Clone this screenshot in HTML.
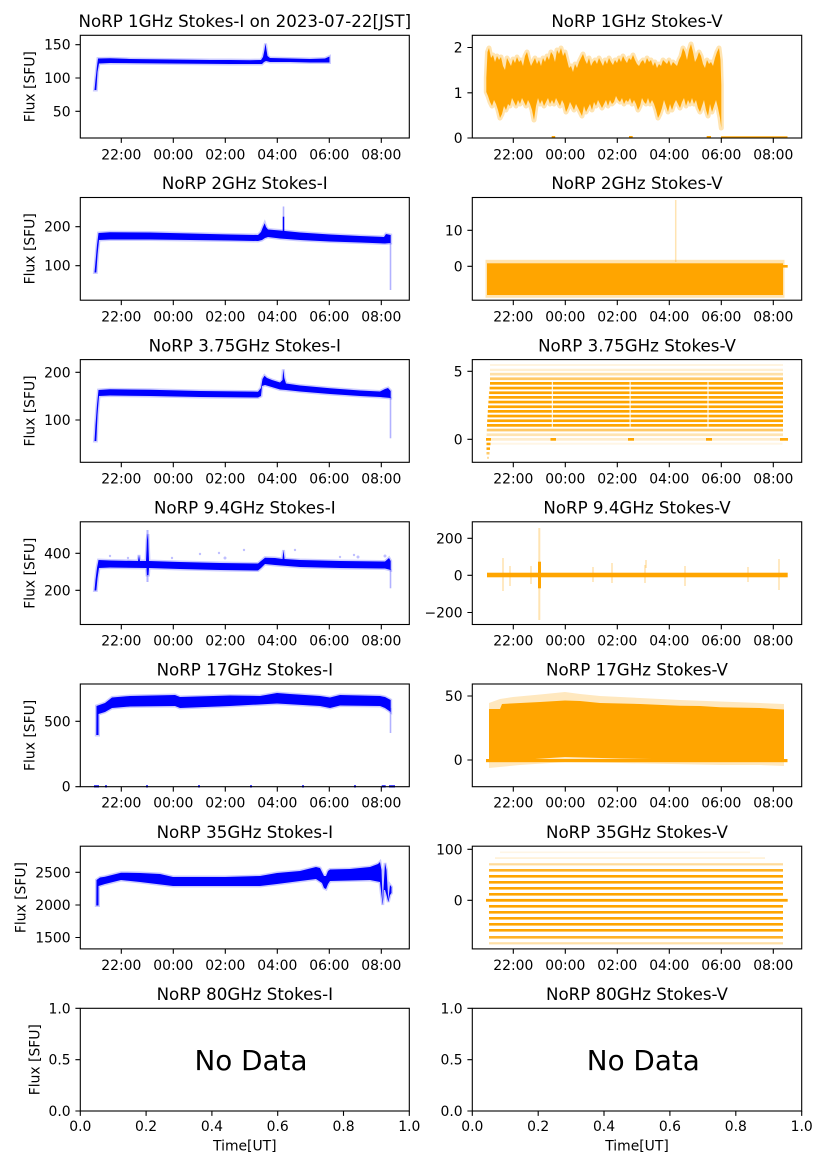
<!DOCTYPE html>
<html><head><meta charset="utf-8"><style>
html,body{margin:0;padding:0;background:#fff;}
svg{display:block;}
text{font-family:"DejaVu Sans","Liberation Sans",sans-serif;fill:#000;}
.tk{font-size:13.9px;}
.tt{font-size:16.67px;text-anchor:middle;}
.yl{font-size:13.9px;text-anchor:end;}
.xl{font-size:13.9px;text-anchor:middle;}
.sp{fill:none;stroke:#000;stroke-width:1.1;}
.tm{stroke:#000;stroke-width:1.1;}
.b{fill:#0000ff;}
.bh{fill:none;stroke:#0000ff;stroke-opacity:.2;stroke-width:3;}
.o{fill:#ffa500;}
.oh{fill:none;stroke:#ffa500;stroke-opacity:.3;stroke-width:5;stroke-linejoin:round;}
</style></head><body>
<svg width="827" height="1169" viewBox="0 0 827 1169" xmlns="http://www.w3.org/2000/svg">
<rect x="0" y="0" width="827" height="1169" fill="#fff"/>

<!-- ================= ROW 1 ================= -->
<text class="tt" x="244.8" y="27">NoRP 1GHz Stokes-I on 2023-07-22[JST]</text>
<text class="tt" x="637" y="27">NoRP 1GHz Stokes-V</text>
<polygon class="bh" points="94.5,90 95.5,80 97,66 98,58.5 110,58.2 130,59 150,59.2 170,59.5 190,59.8 210,60 230,60 250,60.2 261,60 263,57 264.5,50 265.5,43.5 266.5,50 267.5,56 270,58 290,58.5 310,59 325,58.5 329.5,56.5 329.5,62.5 310,62.5 290,62 270,62 266,61 264,62 262,64 250,64 230,64 200,63.8 170,63.5 140,63.3 110,63 99,63.5 97.5,72 96.3,90"/>
<polygon class="b" points="94.5,90 95.5,80 97,66 98,58.5 110,58.2 130,59 150,59.2 170,59.5 190,59.8 210,60 230,60 250,60.2 261,60 263,57 264.5,50 265.5,43.5 266.5,50 267.5,56 270,58 290,58.5 310,59 325,58.5 329.5,56.5 329.5,62.5 310,62.5 290,62 270,62 266,61 264,62 262,64 250,64 230,64 200,63.8 170,63.5 140,63.3 110,63 99,63.5 97.5,72 96.3,90"/>
<!-- right data -->
<g id="v1">
<polygon class="oh" points="486.3,78 487.5,52 489,48 491,58 493,55 495,62 497,56 499,60 501,57 503,66 505,70 507,58 509,62 511,66 513,59 515,63 517,57 519,62 521,60 523,66 525,56 527,52 529,60 531,66 533,62 535,58 537,64 539,60 541,66 543,58 545,62 547,56 549,60 551,52 553,55 555,62 557,50 559,54 561,48 563,56 565,52 567,60 569,68 571,66 573,72 575,64 577,68 579,62 581,58 583,54 585,60 587,64 589,58 591,66 593,62 595,60 597,64 599,58 601,62 603,66 605,60 607,64 609,58 611,62 613,65 615,60 617,63 619,58 621,62 623,56 625,60 627,63 629,58 631,60 633,55 635,60 637,64 639,66 641,62 643,60 645,64 647,58 649,62 651,60 653,66 655,62 657,68 659,64 661,66 663,60 665,62 667,64 669,60 671,66 673,62 675,64 677,66 679,60 681,56 683,48 685,52 687,60 689,50 691,44 693,52 695,62 697,58 699,52 701,56 703,64 705,68 707,60 709,64 711,62 713,66 715,58 717,52 719,48 720.5,60 721.3,85 721.3,128 720,118 718,108 716,100 714,106 712,112 710,104 708,116 706,110 704,100 702,106 700,112 698,108 696,100 694,104 692,98 690,104 688,100 686,106 684,98 682,102 680,108 678,104 676,100 674,104 672,110 670,104 668,112 666,106 664,100 662,108 660,114 658,118 656,110 654,104 652,100 650,104 648,98 646,104 644,102 642,98 640,106 638,110 636,104 634,100 632,104 630,98 628,102 626,100 624,104 622,98 620,102 618,100 616,96 614,102 612,104 610,100 608,106 606,100 604,104 602,108 600,104 598,100 596,106 594,102 592,110 590,104 588,108 586,112 584,106 582,116 580,112 578,108 576,104 574,110 572,106 570,102 568,108 566,112 564,104 562,100 560,106 558,102 556,98 554,104 552,100 550,104 548,98 546,102 544,106 542,100 540,104 538,98 536,106 534,120 532,110 530,104 528,100 526,106 524,102 522,98 520,104 518,100 516,106 514,102 512,98 510,106 508,104 506,110 504,106 502,114 500,118 498,110 496,104 494,100 492,106 490,102 488,96 486.3,92"/>
<polygon class="o" points="486.3,78 487.5,52 489,48 491,58 493,55 495,62 497,56 499,60 501,57 503,66 505,70 507,58 509,62 511,66 513,59 515,63 517,57 519,62 521,60 523,66 525,56 527,52 529,60 531,66 533,62 535,58 537,64 539,60 541,66 543,58 545,62 547,56 549,60 551,52 553,55 555,62 557,50 559,54 561,48 563,56 565,52 567,60 569,68 571,66 573,72 575,64 577,68 579,62 581,58 583,54 585,60 587,64 589,58 591,66 593,62 595,60 597,64 599,58 601,62 603,66 605,60 607,64 609,58 611,62 613,65 615,60 617,63 619,58 621,62 623,56 625,60 627,63 629,58 631,60 633,55 635,60 637,64 639,66 641,62 643,60 645,64 647,58 649,62 651,60 653,66 655,62 657,68 659,64 661,66 663,60 665,62 667,64 669,60 671,66 673,62 675,64 677,66 679,60 681,56 683,48 685,52 687,60 689,50 691,44 693,52 695,62 697,58 699,52 701,56 703,64 705,68 707,60 709,64 711,62 713,66 715,58 717,52 719,48 720.5,60 721.3,85 721.3,128 720,118 718,108 716,100 714,106 712,112 710,104 708,116 706,110 704,100 702,106 700,112 698,108 696,100 694,104 692,98 690,104 688,100 686,106 684,98 682,102 680,108 678,104 676,100 674,104 672,110 670,104 668,112 666,106 664,100 662,108 660,114 658,118 656,110 654,104 652,100 650,104 648,98 646,104 644,102 642,98 640,106 638,110 636,104 634,100 632,104 630,98 628,102 626,100 624,104 622,98 620,102 618,100 616,96 614,102 612,104 610,100 608,106 606,100 604,104 602,108 600,104 598,100 596,106 594,102 592,110 590,104 588,108 586,112 584,106 582,116 580,112 578,108 576,104 574,110 572,106 570,102 568,108 566,112 564,104 562,100 560,106 558,102 556,98 554,104 552,100 550,104 548,98 546,102 544,106 542,100 540,104 538,98 536,106 534,120 532,110 530,104 528,100 526,106 524,102 522,98 520,104 518,100 516,106 514,102 512,98 510,106 508,104 506,110 504,106 502,114 500,118 498,110 496,104 494,100 492,106 490,102 488,96 486.3,92"/>
</g>
<g class="o">
<rect x="551.7" y="136" width="3.5" height="2.2"/><rect x="629" y="136" width="3.7" height="2.2"/><rect x="706.7" y="136" width="4.3" height="2.2"/><rect x="721" y="136.3" width="66.5" height="1.9"/>
</g>
<rect class="sp" x="80.3" y="35.3" width="329" height="102.7"/>
<rect class="sp" x="472.3" y="35.3" width="329.4" height="102.7"/>

<!-- ================= ROW 2 ================= -->
<text class="tt" x="244.8" y="189.2">NoRP 2GHz Stokes-I</text>
<text class="tt" x="637" y="189.2">NoRP 2GHz Stokes-V</text>
<line x1="283.5" y1="231" x2="283.5" y2="216.7" stroke="#0000ff" stroke-width="1.6"/>
<line x1="283.5" y1="217" x2="283.5" y2="206.5" stroke="#0000ff" stroke-opacity=".3" stroke-width="1.6"/>
<line x1="390.5" y1="243" x2="390.5" y2="290" stroke="#0000ff" stroke-opacity=".3" stroke-width="1.6"/>
<polygon class="bh" points="94.5,272.5 95.5,262 97,245 98.5,233 110,232.3 150,232.5 190,233.5 230,234.5 258,235 261,232 263,227 264.7,223.3 266,227 268,229.5 280,230.5 300,232.5 330,234.5 360,236 384,237 386,234 390.7,235 390.7,243 385,243.5 360,242.5 330,241.5 300,240 280,238.5 268,237 265,238 262,240 258,241 230,240.5 190,240 150,239.5 110,239.5 99,240 97.5,255 96.3,272.5"/>
<polygon class="b" points="94.5,272.5 95.5,262 97,245 98.5,233 110,232.3 150,232.5 190,233.5 230,234.5 258,235 261,232 263,227 264.7,223.3 266,227 268,229.5 280,230.5 300,232.5 330,234.5 360,236 384,237 386,234 390.7,235 390.7,243 385,243.5 360,242.5 330,241.5 300,240 280,238.5 268,237 265,238 262,240 258,241 230,240.5 190,240 150,239.5 110,239.5 99,240 97.5,255 96.3,272.5"/>
<rect x="485.5" y="259.8" width="299" height="38" fill="#ffa500" fill-opacity=".3"/>
<rect x="487" y="263.3" width="296" height="31.7" class="o"/>
<rect x="783" y="265" width="4.7" height="2.6" class="o"/>
<line x1="675.7" y1="200" x2="675.7" y2="262" stroke="#ffa500" stroke-opacity=".3" stroke-width="1.5"/>
<rect class="sp" x="80.3" y="197.5" width="329" height="102.7"/>
<rect class="sp" x="472.3" y="197.5" width="329.4" height="102.7"/>

<!-- ================= ROW 3 ================= -->
<text class="tt" x="244.8" y="351.3">NoRP 3.75GHz Stokes-I</text>
<text class="tt" x="637" y="351.3">NoRP 3.75GHz Stokes-V</text>
<line x1="390.5" y1="397" x2="390.5" y2="438.3" stroke="#0000ff" stroke-opacity=".3" stroke-width="1.6"/>
<polygon class="bh" points="94.5,441 95.5,425 97,405 98.5,390 110,389.3 150,389.8 200,391 258,391.7 261,388 262.5,379 264.5,375.7 267,378 272,380 280,382.5 282.5,380 283.3,369.3 284.3,378 286,383.5 300,385.5 330,388.3 360,390.5 380,391.5 385,389 388,388 390.7,391 390.7,398 380,397 360,396 330,394 300,391.5 286,390 280,389.5 270,386.5 265,385 262,386 261,396 258,397.5 200,397 150,396 110,395.5 99,396 97.5,415 96.3,441"/>
<polygon class="b" points="94.5,441 95.5,425 97,405 98.5,390 110,389.3 150,389.8 200,391 258,391.7 261,388 262.5,379 264.5,375.7 267,378 272,380 280,382.5 282.5,380 283.3,369.3 284.3,378 286,383.5 300,385.5 330,388.3 360,390.5 380,391.5 385,389 388,388 390.7,391 390.7,398 380,397 360,396 330,394 300,391.5 286,390 280,389.5 270,386.5 265,385 262,386 261,396 258,397.5 200,397 150,396 110,395.5 99,396 97.5,415 96.3,441"/>
<g class="o">
<rect x="490" y="364" width="293" height="2" fill-opacity=".12"/>
<rect x="490" y="368.7" width="293" height="2.4" fill-opacity=".18"/>
<rect x="490" y="372.8" width="293" height="2.7" fill-opacity=".35"/>
<rect x="490" y="377.4" width="293" height="2.7" fill-opacity=".6"/>
<rect x="490" y="382" width="293" height="2.7"/>
<rect x="489.6" y="386.7" width="293.4" height="2.7"/>
<rect x="489.2" y="391.4" width="293.8" height="2.7"/>
<rect x="488.8" y="396" width="294.2" height="2.7"/>
<rect x="488.4" y="400.7" width="294.6" height="2.7"/>
<rect x="488" y="405.4" width="295" height="2.7"/>
<rect x="487.8" y="410" width="295.2" height="2.7"/>
<rect x="487.5" y="414.7" width="295.5" height="2.7"/>
<rect x="487.2" y="419.4" width="295.8" height="2.7"/>
<rect x="487" y="424" width="296" height="2.7"/>
<rect x="486.8" y="428.7" width="296.2" height="2.7" fill-opacity=".6"/>
<rect x="486.6" y="433.4" width="296.4" height="2.7" fill-opacity=".3"/>
<rect x="486.5" y="438" width="296.5" height="2.7" fill-opacity=".2"/>
<rect x="486" y="438" width="5" height="2.7"/>
<rect x="550.5" y="438" width="5.5" height="2.7"/>
<rect x="628" y="438" width="6" height="2.7"/>
<rect x="706" y="438" width="6" height="2.7"/>
<rect x="780" y="438" width="8" height="2.7"/>
<rect x="486.5" y="442.7" width="4" height="2.5"/>
<rect x="486.5" y="447.4" width="3.5" height="2.5"/>
<rect x="486.5" y="452" width="3" height="2.5" fill-opacity=".6"/>
<rect x="487" y="456.8" width="2" height="2" fill-opacity=".4"/>
<rect x="486.5" y="442.7" width="296" height="2" fill-opacity=".1"/>
</g>
<g fill="#fff">
<rect x="551.8" y="380" width="1" height="48"/>
<rect x="629.6" y="380" width="1" height="48"/>
<rect x="707.5" y="380" width="1" height="48"/>
</g>
<rect class="sp" x="80.3" y="359.6" width="329" height="102.7"/>
<rect class="sp" x="472.3" y="359.6" width="329.4" height="102.7"/>

<!-- ================= ROW 4 ================= -->
<text class="tt" x="244.8" y="513.5">NoRP 9.4GHz Stokes-I</text>
<text class="tt" x="637" y="513.5">NoRP 9.4GHz Stokes-V</text>
<line x1="147.5" y1="530" x2="147.5" y2="582" stroke="#0000ff" stroke-opacity=".3" stroke-width="2"/>
<line x1="390.5" y1="569" x2="390.5" y2="588.3" stroke="#0000ff" stroke-opacity=".3" stroke-width="1.6"/>
<g fill="#0000ff" fill-opacity=".25">
<circle cx="110" cy="556" r="1.2"/><circle cx="128" cy="558" r="1.2"/><circle cx="200" cy="554" r="1.2"/><circle cx="219" cy="553" r="1.2"/><circle cx="244" cy="550" r="1.2"/><circle cx="225" cy="558" r="1.5"/><circle cx="295" cy="550" r="1.2"/><circle cx="354" cy="555" r="1.2"/><circle cx="358" cy="557" r="1.5"/><circle cx="385" cy="556" r="1.5"/><circle cx="172" cy="558" r="1.2"/><circle cx="340" cy="557" r="1.2"/>
</g>
<polygon class="bh" points="94.5,590.5 95.5,580 97,568 98.5,560 110,560.5 138,561 139,555 140,561 146,561 147,540 148,534 149,561 180,562 220,563 258,563.5 261,561 265,557.7 275,558 282.5,559 283.5,550 284.5,559 300,560 340,561 385,561.5 389,558 390.7,561 390.7,570 385,568.5 340,568 300,567 275,565 265,564 261,568 258,570.5 220,570 180,569 149,568 148.5,575 147,575 146.5,568 110,567.5 99,568 97.5,578 96.3,590.5"/>
<polygon class="b" points="94.5,590.5 95.5,580 97,568 98.5,560 110,560.5 138,561 139,555 140,561 146,561 147,540 148,534 149,561 180,562 220,563 258,563.5 261,561 265,557.7 275,558 282.5,559 283.5,550 284.5,559 300,560 340,561 385,561.5 389,558 390.7,561 390.7,570 385,568.5 340,568 300,567 275,565 265,564 261,568 258,570.5 220,570 180,569 149,568 148.5,575 147,575 146.5,568 110,567.5 99,568 97.5,578 96.3,590.5"/>
<line x1="539.3" y1="528" x2="539.3" y2="620" stroke="#ffa500" stroke-opacity=".3" stroke-width="2"/>
<g stroke="#ffa500" stroke-opacity=".3" stroke-width="1.6">
<line x1="503" y1="558" x2="503" y2="591"/><line x1="510" y1="566" x2="510" y2="586"/><line x1="531" y1="566" x2="531" y2="584"/><line x1="612" y1="563" x2="612" y2="583"/><line x1="593" y1="567" x2="593" y2="582"/><line x1="645" y1="565" x2="645" y2="583"/><line x1="646" y1="560" x2="646" y2="568"/><line x1="685" y1="566" x2="685" y2="586"/><line x1="748" y1="567" x2="748" y2="582"/><line x1="779" y1="559" x2="779" y2="590"/>
</g>
<rect x="487" y="572.7" width="300.7" height="4.6" class="o"/>
<rect x="538" y="561.7" width="3" height="26.6" class="o"/>
<rect class="sp" x="80.3" y="521.8" width="329" height="102.7"/>
<rect class="sp" x="472.3" y="521.8" width="329.4" height="102.7"/>

<!-- ================= ROW 5 ================= -->
<text class="tt" x="244.8" y="675.7">NoRP 17GHz Stokes-I</text>
<text class="tt" x="637" y="675.7">NoRP 17GHz Stokes-V</text>
<line x1="390.5" y1="708" x2="390.5" y2="733" stroke="#0000ff" stroke-opacity=".3" stroke-width="1.6"/>
<polygon class="bh" points="96.3,735 96.5,706 105,703 112,697.5 130,696 175,695 180,697 230,695.5 260,696 277,693 290,694 320,696 330,697.5 340,695 380,696 385,697 390.7,700 390.7,712 385,708 380,706 340,705.5 330,708 320,706 277,703.5 230,706 180,708 175,706 130,706.5 112,708 105,712 98.5,714 98.5,735"/>
<polygon class="b" points="96.3,735 96.5,706 105,703 112,697.5 130,696 175,695 180,697 230,695.5 260,696 277,693 290,694 320,696 330,697.5 340,695 380,696 385,697 390.7,700 390.7,712 385,708 380,706 340,705.5 330,708 320,706 277,703.5 230,706 180,708 175,706 130,706.5 112,708 105,712 98.5,714 98.5,735"/>
<g class="b">
<rect x="94" y="785.3" width="5" height="2.2"/><rect x="105" y="785.3" width="2" height="2.2"/><rect x="146" y="785.3" width="2" height="2.2"/><rect x="198" y="785.3" width="2" height="2.2"/><rect x="250" y="785.3" width="2" height="2.2"/><rect x="302" y="785.3" width="2" height="2.2"/><rect x="354" y="785.3" width="2" height="2.2"/><rect x="381.7" y="785.3" width="4" height="2.2"/><rect x="389" y="785.3" width="6" height="2.2"/>
</g>
<polygon points="489,703 500,699 513,697 540,694.5 565,692 580,694 600,696 640,698 680,700 720,701.5 760,703 784,704 784,766 760,765 720,765 620,763 565,762 520,765 489,768" fill="#ffa500" fill-opacity=".25"/>
<polygon class="o" points="489,709 500,709 502,704 540,702 565,700.5 580,701 600,703 640,704 680,705.7 700,706 720,707.3 760,708 775,709 784,709.5 784,760.7 720,760 620,758.5 565,757 520,760 500,761 489,762"/>
<rect x="486" y="759" width="301.5" height="3.2" class="o"/>
<rect class="sp" x="80.3" y="684" width="329" height="102.7"/>
<rect class="sp" x="472.3" y="684" width="329.4" height="102.7"/>

<!-- ================= ROW 6 ================= -->
<text class="tt" x="244.8" y="837.9">NoRP 35GHz Stokes-I</text>
<text class="tt" x="637" y="837.9">NoRP 35GHz Stokes-V</text>
<polygon class="bh" points="96.3,905.5 96.5,880 100,877.5 105,876.7 121,872.7 140,873 160,874 173,877 225,877 260,876 277,873 300,871 316,867 320,868 322,872 324,876 326,876 328,871 330,869.5 350,869 370,867 378,864 380,862 381.5,870 382.7,903 384,880 385,863 386.5,870 388.3,900 390,885 391.5,887 391.5,893 390,895 388.3,902 386.5,895 385,890 384,890 382.7,905 381.5,895 380,882 370,880 350,880.5 330,881 328,884 326,889 324,888 322,883 316,879 300,881 277,884 260,886 225,886 173,886 140,882 121,880 105,884 98.5,886 98.5,905.5"/>
<polygon class="b" points="96.3,905.5 96.5,880 100,877.5 105,876.7 121,872.7 140,873 160,874 173,877 225,877 260,876 277,873 300,871 316,867 320,868 322,872 324,876 326,876 328,871 330,869.5 350,869 370,867 378,864 380,862 381.5,870 382.7,903 384,880 385,863 386.5,870 388.3,900 390,885 391.5,887 391.5,893 390,895 388.3,902 386.5,895 385,890 384,890 382.7,905 381.5,895 380,882 370,880 350,880.5 330,881 328,884 326,889 324,888 322,883 316,879 300,881 277,884 260,886 225,886 173,886 140,882 121,880 105,884 98.5,886 98.5,905.5"/>
<g class="o">
<rect x="500" y="851.5" width="250" height="1.6" fill-opacity=".1"/>
<rect x="495" y="857.2" width="270" height="1.8" fill-opacity=".15"/>
<rect x="489" y="863.2" width="294" height="2.2" fill-opacity=".4"/>
<rect x="489" y="869" width="294" height="2.6" fill-opacity=".85"/>
<rect x="489" y="875" width="294" height="2.6"/>
<rect x="489" y="881" width="294" height="2.6"/>
<rect x="489" y="887" width="294" height="2.6"/>
<rect x="489" y="893" width="294" height="2.6"/>
<rect x="486" y="898.9" width="301.7" height="2.8"/>
<rect x="489" y="905" width="294" height="2.6"/>
<rect x="489" y="911" width="294" height="2.6"/>
<rect x="489" y="917" width="294" height="2.6"/>
<rect x="489" y="923" width="294" height="2.6"/>
<rect x="489" y="929" width="294" height="2.6"/>
<rect x="489" y="936" width="294" height="2.6" fill-opacity=".85"/>
<rect x="489" y="942.2" width="294" height="2.2" fill-opacity=".35"/>
</g>
<rect class="sp" x="80.3" y="846.2" width="329" height="102.7"/>
<rect class="sp" x="472.3" y="846.2" width="329.4" height="102.7"/>

<!-- ================= ROW 7 ================= -->
<text class="tt" x="244.8" y="1000">NoRP 80GHz Stokes-I</text>
<text class="tt" x="637" y="1000">NoRP 80GHz Stokes-V</text>
<rect class="sp" x="80.3" y="1008.3" width="329" height="102.7"/>
<rect class="sp" x="472.3" y="1008.3" width="329.4" height="102.7"/>
<text x="251" y="1070" style="font-size:27.8px;text-anchor:middle;">No Data</text>
<text x="643.3" y="1070" style="font-size:27.8px;text-anchor:middle;">No Data</text>
<text class="xl" x="244.8" y="1150.3">Time[UT]</text>
<text class="xl" x="637" y="1150.3">Time[UT]</text>

<!-- ============ TICKS ============ -->
<g class="tm">
<path d="M121.3 138v4.9M173.3 138v4.9M225.3 138v4.9M277.3 138v4.9M329.3 138v4.9M381.3 138v4.9
M513.3 138v4.9M565.3 138v4.9M617.3 138v4.9M669.3 138v4.9M721.3 138v4.9M773.3 138v4.9
M121.3 300.2v4.9M173.3 300.2v4.9M225.3 300.2v4.9M277.3 300.2v4.9M329.3 300.2v4.9M381.3 300.2v4.9
M513.3 300.2v4.9M565.3 300.2v4.9M617.3 300.2v4.9M669.3 300.2v4.9M721.3 300.2v4.9M773.3 300.2v4.9
M121.3 462.3v4.9M173.3 462.3v4.9M225.3 462.3v4.9M277.3 462.3v4.9M329.3 462.3v4.9M381.3 462.3v4.9
M513.3 462.3v4.9M565.3 462.3v4.9M617.3 462.3v4.9M669.3 462.3v4.9M721.3 462.3v4.9M773.3 462.3v4.9
M121.3 624.5v4.9M173.3 624.5v4.9M225.3 624.5v4.9M277.3 624.5v4.9M329.3 624.5v4.9M381.3 624.5v4.9
M513.3 624.5v4.9M565.3 624.5v4.9M617.3 624.5v4.9M669.3 624.5v4.9M721.3 624.5v4.9M773.3 624.5v4.9
M121.3 786.7v4.9M173.3 786.7v4.9M225.3 786.7v4.9M277.3 786.7v4.9M329.3 786.7v4.9M381.3 786.7v4.9
M513.3 786.7v4.9M565.3 786.7v4.9M617.3 786.7v4.9M669.3 786.7v4.9M721.3 786.7v4.9M773.3 786.7v4.9
M121.3 948.9v4.9M173.3 948.9v4.9M225.3 948.9v4.9M277.3 948.9v4.9M329.3 948.9v4.9M381.3 948.9v4.9
M513.3 948.9v4.9M565.3 948.9v4.9M617.3 948.9v4.9M669.3 948.9v4.9M721.3 948.9v4.9M773.3 948.9v4.9
M80.3 1111v4.9M146.1 1111v4.9M211.9 1111v4.9M277.7 1111v4.9M343.5 1111v4.9M409.3 1111v4.9
M472.3 1111v4.9M538.2 1111v4.9M604 1111v4.9M669.9 1111v4.9M735.8 1111v4.9M801.7 1111v4.9
M75.4 44.7h4.9M75.4 78h4.9M75.4 111.3h4.9
M467.4 47.5h4.9M467.4 92.8h4.9M467.4 138h4.9
M75.4 226.7h4.9M75.4 265.7h4.9
M467.4 230.3h4.9M467.4 266.3h4.9
M75.4 372.3h4.9M75.4 420h4.9
M467.4 371.3h4.9M467.4 439.3h4.9
M75.4 553.3h4.9M75.4 590.3h4.9
M467.4 538.3h4.9M467.4 575.3h4.9M467.4 612.5h4.9
M75.4 721.3h4.9M75.4 786.7h4.9
M467.4 696h4.9M467.4 760h4.9
M75.4 872.3h4.9M75.4 905h4.9M75.4 937.5h4.9
M467.4 849.3h4.9M467.4 900.3h4.9
M75.4 1008.3h4.9M75.4 1059.7h4.9M75.4 1111h4.9
M467.4 1008.3h4.9M467.4 1059.7h4.9M467.4 1111h4.9"/>
</g>

<g class="xl">
<text x="121.3" y="159.3">22:00</text><text x="173.3" y="159.3">00:00</text><text x="225.3" y="159.3">02:00</text><text x="277.3" y="159.3">04:00</text><text x="329.3" y="159.3">06:00</text><text x="381.3" y="159.3">08:00</text>
<text x="513.3" y="159.3">22:00</text><text x="565.3" y="159.3">00:00</text><text x="617.3" y="159.3">02:00</text><text x="669.3" y="159.3">04:00</text><text x="721.3" y="159.3">06:00</text><text x="773.3" y="159.3">08:00</text>
<text x="121.3" y="321.3">22:00</text><text x="173.3" y="321.3">00:00</text><text x="225.3" y="321.3">02:00</text><text x="277.3" y="321.3">04:00</text><text x="329.3" y="321.3">06:00</text><text x="381.3" y="321.3">08:00</text>
<text x="513.3" y="321.3">22:00</text><text x="565.3" y="321.3">00:00</text><text x="617.3" y="321.3">02:00</text><text x="669.3" y="321.3">04:00</text><text x="721.3" y="321.3">06:00</text><text x="773.3" y="321.3">08:00</text>
<text x="121.3" y="483.4">22:00</text><text x="173.3" y="483.4">00:00</text><text x="225.3" y="483.4">02:00</text><text x="277.3" y="483.4">04:00</text><text x="329.3" y="483.4">06:00</text><text x="381.3" y="483.4">08:00</text>
<text x="513.3" y="483.4">22:00</text><text x="565.3" y="483.4">00:00</text><text x="617.3" y="483.4">02:00</text><text x="669.3" y="483.4">04:00</text><text x="721.3" y="483.4">06:00</text><text x="773.3" y="483.4">08:00</text>
<text x="121.3" y="645.6">22:00</text><text x="173.3" y="645.6">00:00</text><text x="225.3" y="645.6">02:00</text><text x="277.3" y="645.6">04:00</text><text x="329.3" y="645.6">06:00</text><text x="381.3" y="645.6">08:00</text>
<text x="513.3" y="645.6">22:00</text><text x="565.3" y="645.6">00:00</text><text x="617.3" y="645.6">02:00</text><text x="669.3" y="645.6">04:00</text><text x="721.3" y="645.6">06:00</text><text x="773.3" y="645.6">08:00</text>
<text x="121.3" y="807.6">22:00</text><text x="173.3" y="807.6">00:00</text><text x="225.3" y="807.6">02:00</text><text x="277.3" y="807.6">04:00</text><text x="329.3" y="807.6">06:00</text><text x="381.3" y="807.6">08:00</text>
<text x="513.3" y="807.6">22:00</text><text x="565.3" y="807.6">00:00</text><text x="617.3" y="807.6">02:00</text><text x="669.3" y="807.6">04:00</text><text x="721.3" y="807.6">06:00</text><text x="773.3" y="807.6">08:00</text>
<text x="121.3" y="969.9">22:00</text><text x="173.3" y="969.9">00:00</text><text x="225.3" y="969.9">02:00</text><text x="277.3" y="969.9">04:00</text><text x="329.3" y="969.9">06:00</text><text x="381.3" y="969.9">08:00</text>
<text x="513.3" y="969.9">22:00</text><text x="565.3" y="969.9">00:00</text><text x="617.3" y="969.9">02:00</text><text x="669.3" y="969.9">04:00</text><text x="721.3" y="969.9">06:00</text><text x="773.3" y="969.9">08:00</text>
<text x="80.3" y="1130.8">0.0</text><text x="146.1" y="1130.8">0.2</text><text x="211.9" y="1130.8">0.4</text><text x="277.7" y="1130.8">0.6</text><text x="343.5" y="1130.8">0.8</text><text x="409.3" y="1130.8">1.0</text>
<text x="472.3" y="1130.8">0.0</text><text x="538.2" y="1130.8">0.2</text><text x="604" y="1130.8">0.4</text><text x="669.9" y="1130.8">0.6</text><text x="735.8" y="1130.8">0.8</text><text x="801.7" y="1130.8">1.0</text>
</g>

<g class="yl">
<text x="70.6" y="49.7">150</text><text x="70.6" y="83">100</text><text x="70.6" y="116.3">50</text>
<text x="462.6" y="52.5">2</text><text x="462.6" y="97.8">1</text><text x="462.6" y="143">0</text>
<text x="70.6" y="231.7">200</text><text x="70.6" y="270.7">100</text>
<text x="462.6" y="235.3">10</text><text x="462.6" y="271.3">0</text>
<text x="70.6" y="377.3">200</text><text x="70.6" y="425">100</text>
<text x="462.6" y="376.3">5</text><text x="462.6" y="444.3">0</text>
<text x="70.6" y="558.3">400</text><text x="70.6" y="595.3">200</text>
<text x="462.6" y="543.3">200</text><text x="462.6" y="580.3">0</text><text x="462.6" y="617.5">−200</text>
<text x="70.6" y="726.3">500</text><text x="70.6" y="791.7">0</text>
<text x="462.6" y="701">50</text><text x="462.6" y="765">0</text>
<text x="70.6" y="877.3">2500</text><text x="70.6" y="910">2000</text><text x="70.6" y="942.5">1500</text>
<text x="462.6" y="854.3">100</text><text x="462.6" y="905.3">0</text>
<text x="70.6" y="1013.3">1.0</text><text x="70.6" y="1064.7">0.5</text><text x="70.6" y="1116">0.0</text>
<text x="462.6" y="1013.3">1.0</text><text x="462.6" y="1064.7">0.5</text><text x="462.6" y="1116">0.0</text>
</g>

<g style="font-size:13.9px;text-anchor:middle;">
<text transform="translate(34.3,86.7) rotate(-90)">Flux [SFU]</text>
<text transform="translate(34.3,248.8) rotate(-90)">Flux [SFU]</text>
<text transform="translate(34.3,411) rotate(-90)">Flux [SFU]</text>
<text transform="translate(34.3,573.2) rotate(-90)">Flux [SFU]</text>
<text transform="translate(34.3,735.4) rotate(-90)">Flux [SFU]</text>
<text transform="translate(25.5,897.6) rotate(-90)">Flux [SFU]</text>
<text transform="translate(39.3,1059.7) rotate(-90)">Flux [SFU]</text>
</g>
</svg>
</body></html>
